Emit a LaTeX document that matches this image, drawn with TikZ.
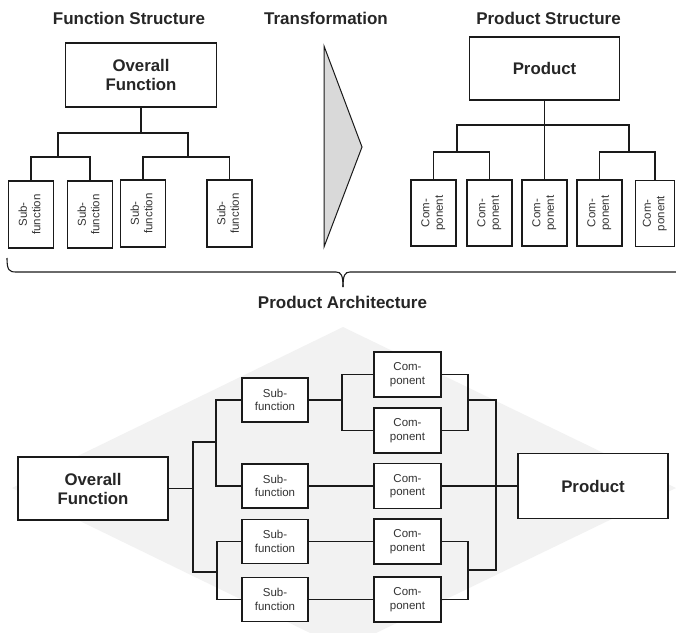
\documentclass[tikz,border=0pt]{standalone}
\usepackage{fontspec}
\setmainfont{Liberation Sans}
\definecolor{ink}{HTML}{1A1A1A}
\definecolor{txtdark}{HTML}{262626}
\definecolor{txtsmall}{HTML}{333333}
\definecolor{bgshadegray}{HTML}{F2F2F2}
\definecolor{trigray}{HTML}{D9D9D9}
\begin{document}
\begin{tikzpicture}[x=1pt,y=-1pt,
  title/.style={font=\bfseries\fontsize{17}{19}\selectfont, text=txtdark, anchor=base, inner sep=0pt},
  bigbox/.style={draw=ink, line width=1.7pt, fill=white, inner sep=0pt, align=center,
     font=\bfseries\fontsize{16.8}{19}\selectfont, text=txtdark},
  smallbox/.style={draw=ink, line width=1.7pt, fill=white, inner sep=0pt, align=center,
     font=\fontsize{11.5}{13.5}\selectfont, text=txtsmall},
  vbox/.style={smallbox, minimum width=45pt, minimum height=67pt},
  hbox/.style={smallbox, minimum width=66pt, minimum height=44pt},
  link/.style={draw=ink, line width=1.3pt},
]
\useasboundingbox (0,0) rectangle (676,632);
\clip (0,0) rectangle (676,632);

% background shading of the architecture
\fill[fill=bgshadegray] (343,327) -- (676,488) -- (343,649) -- (12,488) -- cycle;

% titles
\node[title] (ttl1) at (129,24) {Function Structure};
\node[title] (ttl2) at (326,24) {Transformation};
\node[title] (ttl3) at (548.5,24) {Product Structure};
\node[title] (ttl4) at (342.5,308) {Product Architecture};

% ---------- function structure ----------
\node[bigbox, minimum width=151pt, minimum height=64pt] (tOF) at (141,75) {Overall\\Function};
\node[vbox] (tS1) at (31,214.5)  {\rotatebox{90}{\begin{tabular}{@{}c@{}}Sub-\\function\end{tabular}}};
\node[vbox] (tS2) at (90,214.5)  {\rotatebox{90}{\begin{tabular}{@{}c@{}}Sub-\\function\end{tabular}}};
\node[vbox] (tS3) at (143,213.5) {\rotatebox{90}{\begin{tabular}{@{}c@{}}Sub-\\function\end{tabular}}};
\node[vbox] (tS4) at (229.5,213.5) {\rotatebox{90}{\begin{tabular}{@{}c@{}}Sub-\\function\end{tabular}}};

\coordinate (tl0) at (141,133);
\coordinate (tl1) at (58,157);
\coordinate (tl2) at (188,157);
\draw[link] (tOF.south) -- (tl0);
\draw[link] (tl1) -- (tl1 |- tl0) -- (tl2 |- tl0) -- (tl2);
\draw[link] (tS1.north) |- (tl1) -| (tS2.north);
\draw[link] (tS3.north) |- (tl2) -| (tS4.north);

% ---------- transformation arrow ----------
\draw[draw=ink, line width=1pt, fill=trigray] (324,46) -- (362,147) -- (324,247) -- cycle;

% ---------- product structure ----------
\node[bigbox, minimum width=150pt, minimum height=63pt] (tP) at (544.5,68.5) {Product};
\node[vbox, minimum height=66pt] (tC1) at (433.5,213) {\rotatebox{90}{\begin{tabular}{@{}c@{}}Com-\\ponent\end{tabular}}};
\node[vbox, minimum height=66pt] (tC2) at (489.5,213) {\rotatebox{90}{\begin{tabular}{@{}c@{}}Com-\\ponent\end{tabular}}};
\node[vbox, minimum height=66pt] (tC3) at (544.5,213) {\rotatebox{90}{\begin{tabular}{@{}c@{}}Com-\\ponent\end{tabular}}};
\node[vbox, minimum height=66pt] (tC4) at (599.5,213) {\rotatebox{90}{\begin{tabular}{@{}c@{}}Com-\\ponent\end{tabular}}};
\node[vbox, minimum height=66pt, minimum width=39pt] (tC5) at (655,213.5) {\rotatebox{90}{\begin{tabular}{@{}c@{}}Com-\\ponent\end{tabular}}};

\coordinate (tk1) at (457,125);
\coordinate (tk2) at (629,125);
\coordinate (tj1) at (457,152);
\coordinate (tj2) at (629,152);
\draw[link] (tP.south) -- (tC3.north);
\draw[link] (tj1) -- (tk1) -- (tk2) -- (tj2);
\draw[link] (tC1.north) |- (tj1) -| (tC2.north);
\draw[link] (tC4.north) |- (tj2) -| (tC5.north);

% ---------- brace ----------
\draw[draw=ink, line width=1.1pt] (7,258) .. controls (7,270) and (9,272) .. (16,272) -- (336,272)
   .. controls (341,272) and (343,275) .. (343,287);
\draw[draw=ink, line width=1.1pt] (343,287) .. controls (343,275) and (345,272) .. (350,272) -- (680,272);

% ---------- product architecture ----------
\node[bigbox, minimum width=150pt, minimum height=63pt] (bOF) at (93,488.5) {Overall\\Function};
\node[hbox] (bS1) at (275,400)   {Sub-\\function};
\node[hbox] (bS2) at (275,486)   {Sub-\\function};
\node[hbox] (bS3) at (275,541.5) {Sub-\\function};
\node[hbox] (bS4) at (275,599.5) {Sub-\\function};

\node[hbox, minimum width=67pt, minimum height=45pt] (bC1) at (407.5,374.5) {Com-\\ponent};
\node[hbox, minimum width=67pt, minimum height=45pt] (bC2) at (407.5,430.5) {Com-\\ponent};
\node[hbox, minimum width=67pt, minimum height=45pt] (bC3) at (407.5,486)   {Com-\\ponent};
\node[hbox, minimum width=67pt, minimum height=45pt] (bC4) at (407.5,541.5) {Com-\\ponent};
\node[hbox, minimum width=67pt, minimum height=45pt] (bC5) at (407.5,599.5) {Com-\\ponent};

\node[bigbox, minimum width=150pt, minimum height=65pt] (bP) at (593,486) {Product};

% left tree
\coordinate (b0) at (193,488.5);
\coordinate (ba) at (216,442);
\coordinate (bb) at (217,572);
\draw[link] (bOF.east) -- (b0);
\draw[link] (ba) -- (ba -| b0) -- (bb -| b0) -- (bb);
\draw[link] (bS1.west) -| (ba) |- (bS2.west);
\draw[link] (bS3.west) -| (bb) |- (bS4.west);

% middle
\coordinate (bc) at (342,400);
\draw[link] (bS1.east) -- (bc);
\draw[link] (bC1.west) -| (bc) |- (bC2.west);
\draw[link] (bS2.east) -- (bC3.west);
\draw[link] (bS3.east) -- (bC4.west);
\draw[link] (bS4.east) -- (bC5.west);

% right tree
\coordinate (bd) at (468,400);
\coordinate (be) at (468,570);
\coordinate (bg) at (496,400);
\coordinate (bh) at (496,570);
\draw[link] (bC1.east) -| (bd) |- (bC2.east);
\draw[link] (bC4.east) -| (be) |- (bC5.east);
\draw[link] (bd) -- (bg) -- (bh) -- (be);
\draw[link] (bC3.east) -- (bP.west);
\end{tikzpicture}
\end{document}
